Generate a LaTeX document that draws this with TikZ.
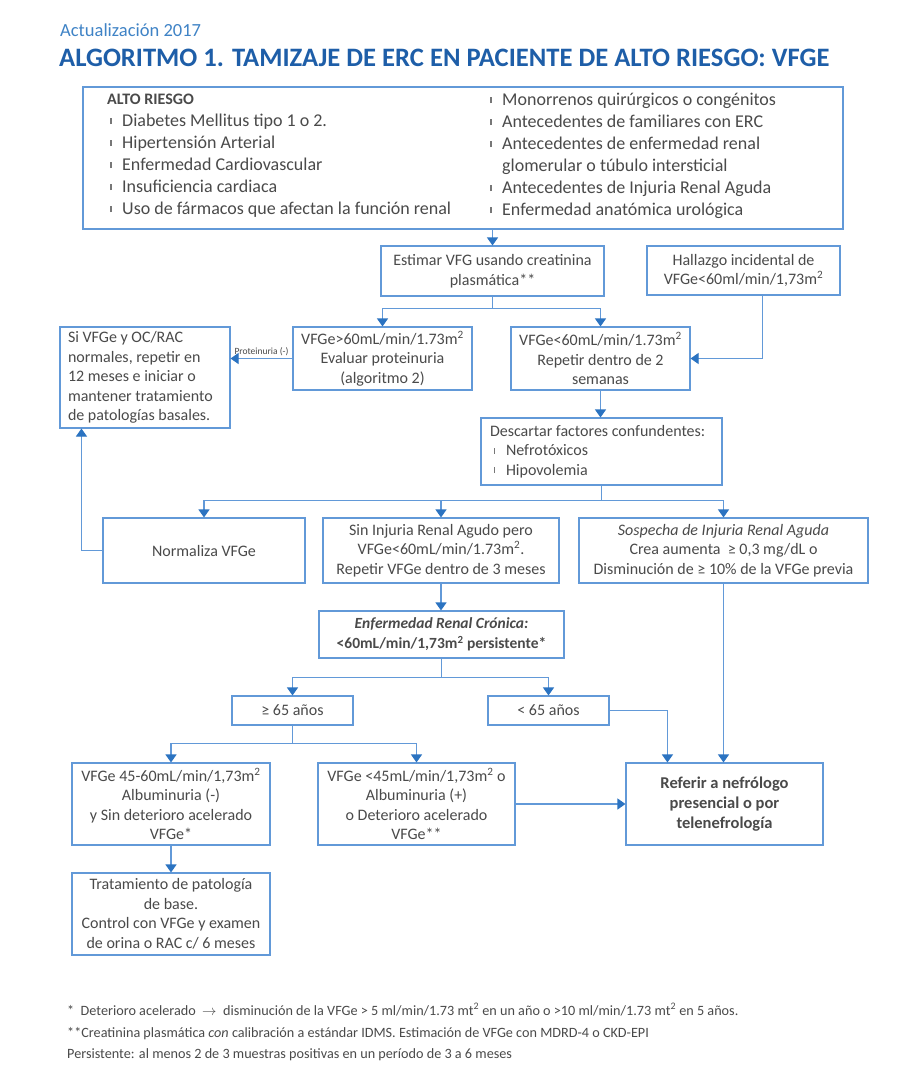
\documentclass[tikz,border=0pt]{standalone}
\usepackage{fontspec}
\setmainfont{Carlito}
\usepackage{tikz}
\usetikzlibrary{arrows.meta,positioning,calc}
\definecolor{tt}{HTML}{1E5EA8}
\definecolor{ac}{HTML}{3F83C6}
\definecolor{bd}{HTML}{6299D8}
\definecolor{ah}{HTML}{2B73C1}
\definecolor{tx}{HTML}{4A4A4A}
\newcommand{\Bu}{\makebox[12pt][l]{\textcolor{tx!75}{\rule[0.14em]{1.4pt}{0.36em}}}}
\newcommand{\Mq}{m\textsuperscript{2}}

\begin{document}
\begin{tikzpicture}[x=1pt,y=-1pt,
  caja/.style={draw=bd, line width=1.1pt, align=center, inner sep=0pt, text=tx,
    font=\fontsize{16}{19.5}\selectfont},
  linea/.style={draw=bd, line width=1.1pt},
  flecha/.style={linea, -{Triangle[length=8pt,width=11pt,color=ah,fill=ah]}},
  nota/.style={anchor=base west, inner sep=0pt, text=tx, font=\fontsize{14.2}{16}\selectfont}]
  \path[use as bounding box, fill=white] (0,0) rectangle (917,1079);

  \node[anchor=base west, inner sep=0pt, text=ac, font=\fontsize{18.5}{21}\selectfont] (actual) at (60,36) {Actualización 2017};
  \node[anchor=base west, inner sep=0pt, text=tt, font=\fontsize{26.6}{30}\selectfont\bfseries] (titulo) at (59,66)
    {ALGORITMO 1. TAMIZAJE DE ERC EN PACIENTE DE ALTO RIESGO: VFGE};

  % factores de alto riesgo
  \node[caja, minimum width=760, minimum height=142] (alto) at (463,158) {};
  \node[anchor=north west, align=flush left, inner sep=0pt, text=tx, font=\fontsize{18}{22}\selectfont] (izq) at (107,94) {%
    {\fontsize{16}{22}\selectfont\textbf{ALTO RIESGO}}\\
    \hspace*{3pt}\Bu Diabetes Mellitus tipo 1 o 2.\\
    \hspace*{3pt}\Bu Hipertensión Arterial\\
    \hspace*{3pt}\Bu Enfermedad Cardiovascular\\
    \hspace*{3pt}\Bu Insuficiencia cardiaca\\
    \hspace*{3pt}\Bu Uso de fármacos que afectan la función renal};
  \node[anchor=north west, align=flush left, inner sep=0pt, text=tx, font=\fontsize{18}{22}\selectfont] (der) at (490,93) {%
    \Bu Monorrenos quirúrgicos o congénitos\\
    \Bu Antecedentes de familiares con ERC\\
    \Bu Antecedentes de enfermedad renal\\
    \hspace*{12pt}glomerular o túbulo intersticial\\
    \Bu Antecedentes de Injuria Renal Aguda\\
    \Bu Enfermedad anatómica urológica};

  \node[caja, minimum width=223, minimum height=50] (estimar) at (492.5,271) {Estimar VFG usando creatinina\\plasmática**};
  \node[caja, minimum width=193, minimum height=49] (hallazgo) at (743.5,270.5) {Hallazgo incidental de\\VFGe<60ml/min/1,73\Mq};
  \node[caja, minimum width=179, minimum height=63] (mayor60) at (382.5,358.5) {VFGe>60mL/min/1.73\Mq\\Evaluar proteinuria\\(algoritmo 2)};
  \node[caja, minimum width=179, minimum height=63] (menor60) at (600.5,358.5) {VFGe<60mL/min/1.73\Mq\\Repetir dentro de 2\\semanas};
  \node[caja, minimum width=170, minimum height=101, text width=154, align=flush left] (sivfge) at (145,377.5)
    {Si VFGe y OC/RAC\\normales, repetir en\\12 meses e iniciar o\\mantener tratamiento\\de patologías basales.};
  \node[caja, minimum width=241, minimum height=67, text width=223, align=flush left] (descartar) at (601.5,451.5)
    {Descartar factores confundentes:\\\hspace*{4pt}\Bu Nefrotóxicos\\\hspace*{4pt}\Bu Hipovolemia};

  \node[caja, minimum width=202, minimum height=65] (normaliza) at (204,550.5) {Normaliza VFGe};
  \node[caja, minimum width=236, minimum height=65] (sininjuria) at (441,550.5)
    {Sin Injuria Renal Agudo pero\\VFGe<60mL/min/1.73\Mq.\\Repetir VFGe dentro de 3 meses};
  \node[caja, minimum width=289, minimum height=65] (sospecha) at (723.5,550.5)
    {\textit{Sospecha de Injuria Renal Aguda}\\Crea aumenta\ \ ≥ 0,3 mg/dL o\\Disminución de ≥ 10\% de la VFGe previa};

  \node[caja, minimum width=245, minimum height=47, font=\fontsize{15.5}{20}\selectfont\bfseries] (erc) at (441.5,634.5)
    {\textit{Enfermedad Renal Crónica:}\\<60mL/min/1,73\Mq\ persistente*};
  \node[caja, minimum width=121, minimum height=29] (mayor65) at (292.5,710.5) {≥ 65 años};
  \node[caja, minimum width=121, minimum height=29] (menor65) at (548.5,710.5) {< 65 años};

  \node[caja, minimum width=198, minimum height=82] (vfge4560) at (171,804)
    {VFGe 45-60mL/min/1,73\Mq\\Albuminuria (-)\\y Sin deterioro acelerado\\VFGe*};
  \node[caja, minimum width=197, minimum height=82] (vfge45) at (416.5,804)
    {VFGe <45mL/min/1,73\Mq\ o\\Albuminuria (+)\\o Deterioro acelerado\\VFGe**};
  \node[caja, minimum width=197, minimum height=82, font=\fontsize{16.5}{20}\selectfont\bfseries] (referir) at (724.5,804)
    {Referir a nefrólogo\\presencial o por\\telenefrología};
  \node[caja, minimum width=198, minimum height=82] (tratamiento) at (171,914)
    {Tratamiento de patología\\de base.\\Control con VFGe y examen\\de orina o RAC c/ 6 meses};

  % conectores
  \draw[flecha] (alto.south -| estimar.north) -- (estimar.north);
  \coordinate (r1) at ($(estimar.south)+(0,12)$);
  \draw[linea] (estimar.south) -- (r1);
  \draw[flecha] (r1) -| (mayor60.north);
  \draw[flecha] (r1) -| (menor60.north);
  \draw[flecha] ($(hallazgo.south)+(19,0)$) |- (menor60.east);
  \draw[flecha] (mayor60.west) -- node[above, inner sep=2pt, text=tx, font=\fontsize{9.5}{10}\selectfont] {Proteinuria (-)} (mayor60.west -| sivfge.east);
  \draw[flecha] (menor60.south) -- (menor60.south |- descartar.north);

  \coordinate (r2) at ($(descartar.south)+(0,15)$);
  \draw[linea] (descartar.south) -- (r2);
  \draw[flecha] (r2) -| (normaliza.north);
  \draw[flecha] (r2) -| (sininjuria.north);
  \draw[flecha] (r2) -| (sospecha.north);
  \draw[flecha] (normaliza.west) -| ($(sivfge.south west)+(22,0)$);
  \draw[flecha] (sininjuria.south) -- (sininjuria.south |- erc.north);

  \coordinate (r3) at ($(erc.south)+(0,19)$);
  \draw[linea] (erc.south) -- (r3);
  \draw[flecha] (r3) -| (mayor65.north);
  \draw[flecha] (r3) -| (menor65.north);
  \coordinate (r4) at ($(mayor65.south)+(0,18)$);
  \draw[linea] (mayor65.south) -- (r4);
  \draw[flecha] (r4) -| (vfge4560.north);
  \draw[flecha] (r4) -| (vfge45.north);
  \draw[flecha] (menor65.east) -| ($(referir.north west)+(42,0)$);
  \draw[flecha] (sospecha.south) -- (sospecha.south |- referir.north);
  \draw[flecha] (vfge45.east) -- (referir.west);
  \draw[flecha] (vfge4560.south) -- (tratamiento.north);

  % notas
  \node[nota] (nota1) at (67,1015) {*\ \ Deterioro acelerado \ $\rightarrow$\ \ disminución de la VFGe > 5 ml/min/1.73 mt\textsuperscript{2} en un año o >10 ml/min/1.73 mt\textsuperscript{2} en 5 años.};
  \node[nota] (nota2) at (67,1037) {**Creatinina plasmática \textit{con} calibración a estándar IDMS. Estimación de VFGe con MDRD-4 o CKD-EPI};
  \node[nota] (nota3) at (67,1058) {Persistente: al menos 2 de 3 muestras positivas en un período de 3 a 6 meses};
\end{tikzpicture}
\end{document}
